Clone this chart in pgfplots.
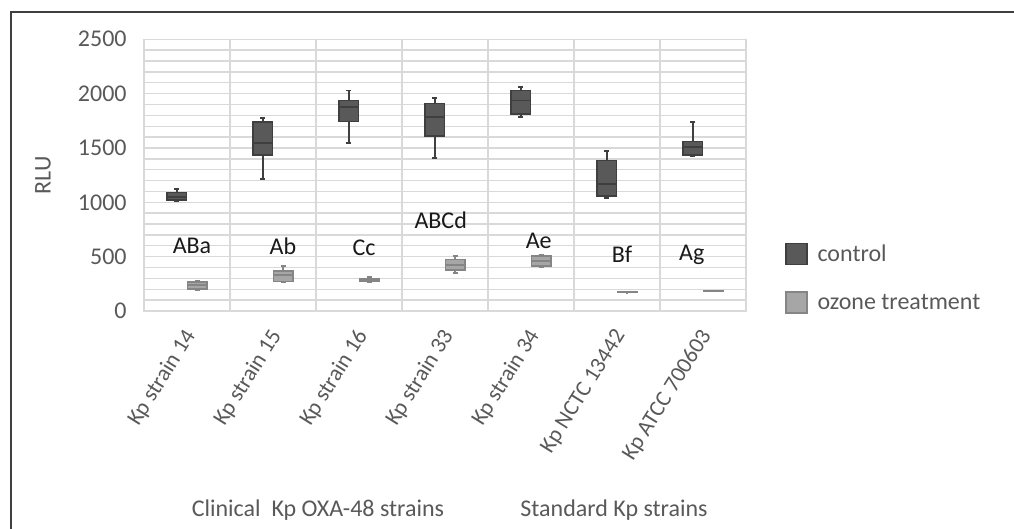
\documentclass[border=0pt]{standalone}
\usepackage{pgfplots}
\pgfplotsset{compat=1.18}
\usepackage{fontspec}
\setmainfont{Carlito}
\definecolor{ctrlfill}{HTML}{595959}
\definecolor{ctrldraw}{HTML}{3F3F3F}
\definecolor{ozfill}{HTML}{A6A6A6}
\definecolor{ozdraw}{HTML}{858585}
\definecolor{gridc}{HTML}{D9D9D9}
\definecolor{txtc}{HTML}{595959}
\begin{document}
\begin{tikzpicture}
\useasboundingbox (0,0) rectangle (507pt,264.5pt);
\draw[color=ctrldraw, line width=0.8pt] (5.5pt,0pt) -- (5.5pt,258.5pt) -- (507pt,258.5pt);
\begin{axis}[
  at={(72pt,109pt)}, anchor=south west,
  scale only axis, width=301pt, height=135.85pt,
  xmin=0.5, xmax=7.5, ymin=0, ymax=2500,
  xtick={1,2,3,4,5,6,7},
  xticklabels={Kp strain 14,Kp strain 15,Kp strain 16,Kp strain 33,Kp strain 34,Kp NCTC 13442,Kp ATCC 700603},
  minor xtick={0.5,1.5,2.5,3.5,4.5,5.5,6.5,7.5},
  ytick={0,500,1000,1500,2000,2500},
  minor ytick={100,200,300,400,600,700,800,900,1100,1200,1300,1400,1600,1700,1800,1900,2100,2200,2300,2400},
  xminorgrids, ymajorgrids, yminorgrids,
  major grid style={gridc, line width=0.7pt},
  minor grid style={gridc, line width=0.7pt},
  axis line style={gridc, line width=0.7pt},
  major tick length=0pt, minor tick length=0pt,
  tick label style={font=\fontsize{12}{14}\selectfont, text=txtc},
  /pgf/number format/assume math mode=true,
  /pgf/number format/1000 sep={},
  yticklabel style={inner sep=0pt, xshift=-8.5pt},
  xticklabel style={font=\fontsize{11.3}{13}\selectfont, xshift=2pt, yshift=-10.5pt, rotate=58, anchor=east, inner sep=0pt},
  ylabel={RLU},
  ylabel style={font=\fontsize{12}{14}\selectfont, text=txtc, yshift=10pt},
  unbounded coords=jump,
  legend style={draw=none, fill=none, at={(1.064,0.261)}, anchor=north west,
    inner sep=0pt, row sep=11pt, font=\fontsize{12}{14}\selectfont, text=txtc,
    legend cell align=left,
    /tikz/every odd column/.append style={column sep=3pt}},
  legend image code/.code={\draw[#1] (0pt,-5pt) rectangle (10.5pt,5.5pt);},
]
% control boxes (quartiles)
\addplot[fill=ctrlfill, draw=ctrldraw, line width=0.8pt] coordinates {(0.765,1021) (0.995,1021) (0.995,1092) (0.765,1092)} -- cycle;
\addlegendentry{control}
\addplot[forget plot, fill=ctrlfill, draw=ctrldraw, line width=0.8pt] coordinates {(1.765,1436) (1.995,1436) (1.995,1739) (1.765,1739)} -- cycle;
\addplot[forget plot, fill=ctrlfill, draw=ctrldraw, line width=0.8pt] coordinates {(2.765,1745) (2.995,1745) (2.995,1936) (2.765,1936)} -- cycle;
\addplot[forget plot, fill=ctrlfill, draw=ctrldraw, line width=0.8pt] coordinates {(3.765,1610) (3.995,1610) (3.995,1911) (3.765,1911)} -- cycle;
\addplot[forget plot, fill=ctrlfill, draw=ctrldraw, line width=0.8pt] coordinates {(4.765,1810) (4.995,1810) (4.995,2028) (4.765,2028)} -- cycle;
\addplot[forget plot, fill=ctrlfill, draw=ctrldraw, line width=0.8pt] coordinates {(5.765,1058) (5.995,1058) (5.995,1383) (5.765,1383)} -- cycle;
\addplot[forget plot, fill=ctrlfill, draw=ctrldraw, line width=0.8pt] coordinates {(6.765,1436) (6.995,1436) (6.995,1558) (6.765,1558)} -- cycle;
% control whiskers, caps, medians
\addplot[forget plot, draw=ctrldraw, line width=0.9pt] coordinates {
(0.88,1092) (0.88,1123) (nan,nan) (0.85,1123) (0.91,1123) (nan,nan) (0.88,1021) (0.88,1012) (nan,nan) (0.85,1012) (0.91,1012) (nan,nan) (0.765,1052) (0.995,1052) (nan,nan)
(1.88,1739) (1.88,1776) (nan,nan) (1.85,1776) (1.91,1776) (nan,nan) (1.88,1436) (1.88,1212) (nan,nan) (1.85,1212) (1.91,1212) (nan,nan) (1.765,1543) (1.995,1543) (nan,nan)
(2.88,1936) (2.88,2028) (nan,nan) (2.85,2028) (2.91,2028) (nan,nan) (2.88,1745) (2.88,1543) (nan,nan) (2.85,1543) (2.91,1543) (nan,nan) (2.765,1880) (2.995,1880) (nan,nan)
(3.88,1911) (3.88,1957) (nan,nan) (3.85,1957) (3.91,1957) (nan,nan) (3.88,1610) (3.88,1408) (nan,nan) (3.85,1408) (3.91,1408) (nan,nan) (3.765,1788) (3.995,1788) (nan,nan)
(4.88,2028) (4.88,2058) (nan,nan) (4.85,2058) (4.91,2058) (nan,nan) (4.88,1810) (4.88,1782) (nan,nan) (4.85,1782) (4.91,1782) (nan,nan) (4.765,1936) (4.995,1936) (nan,nan)
(5.88,1383) (5.88,1475) (nan,nan) (5.85,1475) (5.91,1475) (nan,nan) (5.88,1058) (5.88,1040) (nan,nan) (5.85,1040) (5.91,1040) (nan,nan) (5.765,1169) (5.995,1169) (nan,nan)
(6.88,1558) (6.88,1736) (nan,nan) (6.85,1736) (6.91,1736) (nan,nan) (6.88,1436) (6.88,1429) (nan,nan) (6.85,1429) (6.91,1429) (nan,nan) (6.765,1512) (6.995,1512)
};
% ozone boxes
\addplot[fill=ozfill, draw=ozdraw, line width=0.8pt] coordinates {(1.005,205) (1.235,205) (1.235,264) (1.005,264)} -- cycle;
\addlegendentry{ozone treatment}
\addplot[forget plot, fill=ozfill, draw=ozdraw, line width=0.8pt] coordinates {(2.005,270) (2.235,270) (2.235,368) (2.005,368)} -- cycle;
\addplot[forget plot, fill=ozfill, draw=ozdraw, line width=0.8pt] coordinates {(3.005,272) (3.235,272) (3.235,300) (3.005,300)} -- cycle;
\addplot[forget plot, fill=ozfill, draw=ozdraw, line width=0.8pt] coordinates {(4.005,377) (4.235,377) (4.235,472) (4.005,472)} -- cycle;
\addplot[forget plot, fill=ozfill, draw=ozdraw, line width=0.8pt] coordinates {(5.005,414) (5.235,414) (5.235,506) (5.005,506)} -- cycle;
\addplot[forget plot, fill=ozfill, draw=ozdraw, line width=0.8pt] coordinates {(6.005,170) (6.235,170) (6.235,176) (6.005,176)} -- cycle;
\addplot[forget plot, fill=ozfill, draw=ozdraw, line width=0.8pt] coordinates {(7.005,182) (7.235,182) (7.235,188) (7.005,188)} -- cycle;
% ozone whiskers, caps, medians
\addplot[forget plot, draw=ozdraw, line width=0.9pt] coordinates {
(1.12,264) (1.12,276) (nan,nan) (1.09,276) (1.15,276) (nan,nan) (1.12,205) (1.12,193) (nan,nan) (1.09,193) (1.15,193) (nan,nan) (1.005,236) (1.235,236) (nan,nan)
(2.12,368) (2.12,414) (nan,nan) (2.09,414) (2.15,414) (nan,nan) (2.12,270) (2.12,264) (nan,nan) (2.09,264) (2.15,264) (nan,nan) (2.005,328) (2.235,328) (nan,nan)
(3.12,300) (3.12,310) (nan,nan) (3.09,310) (3.15,310) (nan,nan) (3.12,272) (3.12,264) (nan,nan) (3.09,264) (3.15,264) (nan,nan) (3.005,285) (3.235,285) (nan,nan)
(4.12,472) (4.12,506) (nan,nan) (4.09,506) (4.15,506) (nan,nan) (4.12,377) (4.12,347) (nan,nan) (4.09,347) (4.15,347) (nan,nan) (4.005,423) (4.235,423) (nan,nan)
(5.12,506) (5.12,512) (nan,nan) (5.09,512) (5.15,512) (nan,nan) (5.12,414) (5.12,402) (nan,nan) (5.09,402) (5.15,402) (nan,nan) (5.005,460) (5.235,460) (nan,nan)
(6.12,176) (6.12,178) (nan,nan) (6.12,170) (6.12,168) (nan,nan) (6.005,173) (6.235,173) (nan,nan)
(7.12,188) (7.12,190) (nan,nan) (7.12,182) (7.12,180) (nan,nan) (7.005,185) (7.235,185)
};
% letters
\node[font=\fontsize{12}{14}\selectfont, text=black!90] at (axis cs:1.058,598) {ABa};
\node[font=\fontsize{12}{14}\selectfont, text=black!90] at (axis cs:2.116,592) {Ab};
\node[font=\fontsize{12}{14}\selectfont, text=black!90] at (axis cs:3.058,586) {Cc};
\node[font=\fontsize{12}{14}\selectfont, text=black!90] at (axis cs:3.95,831) {ABCd};
\node[font=\fontsize{12}{14}\selectfont, text=black!90] at (axis cs:5.09,647) {Ae};
\node[font=\fontsize{12}{14}\selectfont, text=black!90] at (axis cs:6.058,525) {Bf};
\node[font=\fontsize{12}{14}\selectfont, text=black!90] at (axis cs:6.87,512) {Ag};
\end{axis}
\node[font=\fontsize{12}{14}\selectfont, text=txtc] at (159pt,9.5pt) {Clinical\ \ Kp OXA-48 strains};
\node[font=\fontsize{12}{14}\selectfont, text=txtc] at (307pt,9.5pt) {Standard Kp strains};
\end{tikzpicture}
\end{document}
